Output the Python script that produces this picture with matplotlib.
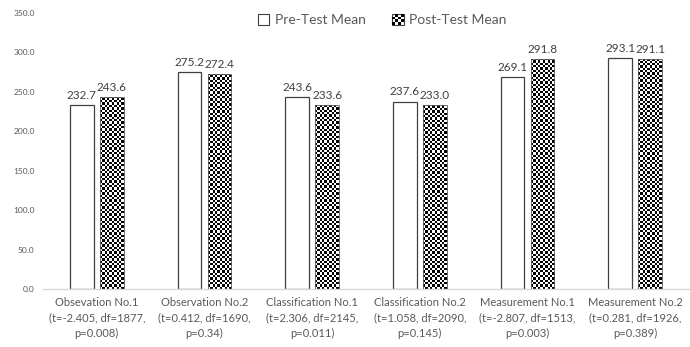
import numpy as np
import matplotlib
matplotlib.use("Agg")
import matplotlib.pyplot as plt
from matplotlib.patches import Rectangle
from matplotlib.legend_handler import HandlerBase

plt.rcParams['font.family'] = ['Lato', 'DejaVu Sans']

categories = [
    "Obsevation No.1\n(t=-2.405, df=1877,\np=0.008)",
    "Observation No.2\n(t=0.412, df=1690,\np=0.34)",
    "Classification No.1\n(t=2.306, df=2145,\np=0.011)",
    "Classification No.2\n(t=1.058, df=2090,\np=0.145)",
    "Measurement No.1\n(t=-2.807, df=1513,\np=0.003)",
    "Measurement No.2\n(t=0.281, df=1926,\np=0.389)",
]
pre_mean = [232.7, 275.2, 243.6, 237.6, 269.1, 293.1]
post_mean = [243.6, 272.4, 233.6, 233.0, 291.8, 291.1]
yticks = [0, 50, 100, 150, 200, 250, 300, 350]

W, H, DPI = 690, 347, 100
fig = plt.figure(figsize=(W / DPI, H / DPI), dpi=DPI)
ax = fig.add_axes([43 / W, 1 - 289 / H, (689 - 43) / W, (289 - 13) / H])

n = len(categories)
x = np.arange(n)
bw = 0.222
gap = 0.056
ax.set_xlim(-0.5, n - 0.5)
ax.set_ylim(0, 350)

text_gray = '#595959'
edge = '#404040'

pre_bars = ax.bar(x - (bw + gap) / 2, pre_mean, bw, color='white', edgecolor=edge, linewidth=0.9, zorder=2)
post_bars = ax.bar(x + (bw + gap) / 2, post_mean, bw, facecolor='none', edgecolor='#595959', linewidth=0.6, zorder=3)

# checkerboard fill for the post-test bars
fig.canvas.draw()
px_per_x = ax.transData.transform((1, 0))[0] - ax.transData.transform((0, 0))[0]
px_per_y = ax.transData.transform((0, 1))[1] - ax.transData.transform((0, 0))[1]
cell = 2.35
for b in post_bars:
    x0, w, h = b.get_x(), b.get_width(), b.get_height()
    nx = int(np.ceil(w * px_per_x / cell))
    ny = int(np.ceil(h * px_per_y / cell))
    board = 1.0 - (np.add.outer(np.arange(ny), np.arange(nx)) % 2).astype(float)
    im = ax.imshow(board, cmap='gray', vmin=0, vmax=1, interpolation='nearest',
                   extent=(x0, x0 + nx * cell / px_per_x, 0, ny * cell / px_per_y),
                   origin='lower', aspect='auto', zorder=2.5)
    im.set_clip_path(b)
ax.set_xlim(-0.5, n - 0.5)
ax.set_ylim(0, 350)

for bars, vals in ((pre_bars, pre_mean), (post_bars, post_mean)):
    for b, v in zip(bars, vals):
        ax.annotate(f"{v:.1f}", (b.get_x() + b.get_width() / 2, v), xytext=(0, 3),
                    textcoords='offset points', ha='center', va='bottom',
                    fontsize=8.5, color='#404040')

ax.set_yticks(yticks)
ax.set_yticklabels([f"{v:.1f}" for v in yticks], fontsize=6, color=text_gray)
ax.set_xticks(x)
ax.set_xticklabels(categories, fontsize=8, color=text_gray, linespacing=1.45)
ax.tick_params(axis='both', length=0)
ax.tick_params(axis='y', pad=6)
ax.tick_params(axis='x', pad=6)
for s in ('top', 'right', 'left'):
    ax.spines[s].set_visible(False)
ax.spines['bottom'].set_color('#d9d9d9')
ax.spines['bottom'].set_linewidth(1.0)


class CheckerHandler(HandlerBase):
    def create_artists(self, legend, orig_handle, xdescent, ydescent, width, height, fontsize, trans):
        size = height * 1.0
        x0 = -xdescent + (width - size) / 2
        y0 = -ydescent + (height - size) / 2
        arts = [Rectangle((x0, y0), size, size, facecolor='white', edgecolor='#404040', lw=0.8, transform=trans)]
        k = 4
        s = size / k
        for i in range(k):
            for j in range(k):
                if (i + j) % 2 == 0:
                    arts.append(Rectangle((x0 + i * s, y0 + j * s), s, s, facecolor='black',
                                          edgecolor='none', transform=trans))
        return arts


class BoxHandler(HandlerBase):
    def create_artists(self, legend, orig_handle, xdescent, ydescent, width, height, fontsize, trans):
        size = height * 1.0
        x0 = -xdescent + (width - size) / 2
        y0 = -ydescent + (height - size) / 2
        return [Rectangle((x0, y0), size, size, facecolor='white', edgecolor='#404040', lw=0.8, transform=trans)]


h_pre = Rectangle((0, 0), 1, 1)
h_post = Rectangle((0, 0), 1, 1)
leg = fig.legend([h_pre, h_post], ["Pre-Test Mean", "Post-Test Mean"],
                 handler_map={h_pre: BoxHandler(), h_post: CheckerHandler()},
                 loc='center', bbox_to_anchor=(382 / W, 1 - 20 / H), ncol=2, frameon=False,
                 fontsize=10, handlelength=0.9, handleheight=0.9, handletextpad=0.35,
                 columnspacing=1.9, labelcolor=text_gray)

fig.savefig("out.png", dpi=DPI)
